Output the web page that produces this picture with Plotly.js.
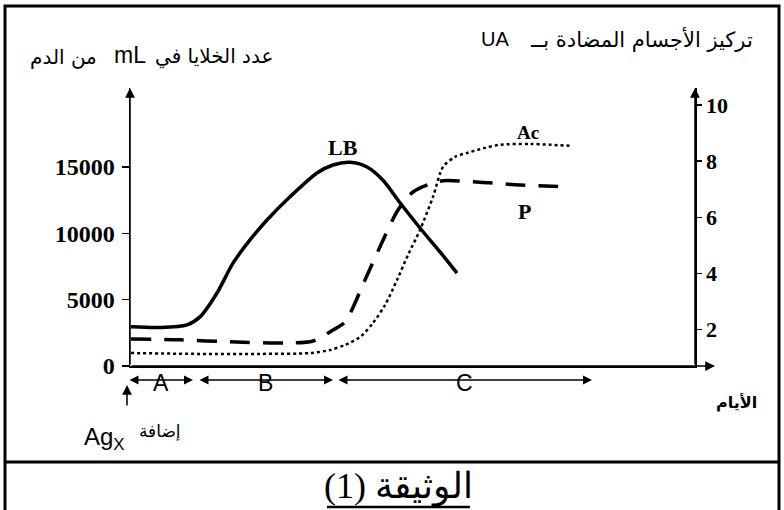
<!DOCTYPE html>
<html>
<head>
<meta charset="utf-8">
<script src="https://cdn.plot.ly/plotly-3.0.1.min.js"></script>
<style>html,body{margin:0;padding:0;background:#fff;}#chart{width:784px;height:510px;}</style>
</head>
<body>
<div id="chart"></div>
<script>
// ---- data ----
const lbDays  = [0.1, 3, 5.7, 7, 8.7, 10.3, 12, 13.7, 16, 18.7, 20.3, 22, 23.7, 25.3, 27, 29, 31, 32.7];
const lbCells = [2950, 2900, 3100, 3700, 5500, 7750, 9500, 11000, 12750, 14550, 15150, 15350, 15000, 14000, 12300, 10400, 8600, 7000];

const pDays = [0.1, 5, 10, 16, 18.3, 20.3, 21.5, 23.5, 25, 26.8, 28.3, 30, 31.3, 35, 39, 43.7];
const pConc = [1.67, 1.64, 1.57, 1.53, 1.6, 1.99, 2.28, 3.77, 4.95, 6.26, 6.9, 7.19, 7.3, 7.25, 7.15, 7.08];

const acDays = [0.1, 7, 13, 18, 20, 21.5, 23, 24.3, 25.5, 26.7, 27.8, 29, 30.3, 31.3, 32.5, 33.7, 35.5, 37, 40, 42, 44.2];
const acConc = [1.17, 1.14, 1.14, 1.17, 1.28, 1.46, 1.74, 2.24, 2.88, 3.77, 4.66, 5.55, 6.73, 7.79, 8.15, 8.29, 8.47, 8.58, 8.61, 8.58, 8.54];

const cellTicks = [0, 5000, 10000, 15000];
const concTicks = [2, 4, 6, 8, 10];
const phaseNames = ['A', 'B', 'C'];
const phaseStart = [-0.2, 6.8, 20.7];
const phaseEnd   = [6.3, 20.3, 46.2];

// ---- layout helpers (pixel -> paper) ----
const X0 = 130, X1 = 695, Y0 = 366, Y1 = 88;
const px = x => (x - X0) / (X1 - X0);
const py = y => (Y0 - y) / (Y0 - Y1);
const xRange = [0, 56.5];
const yRange = [0, 20950];
const y2Range = [0.71, 10.6];

const serif = 'Liberation Serif, DejaVu Serif, serif';
const arab = 'DejaVu Sans, Noto Sans, sans-serif';
const sans = 'Liberation Sans, Arial, sans-serif';

const traces = [
  {x: lbDays, y: lbCells, type: 'scatter', mode: 'lines', yaxis: 'y',
   line: {color: '#000', width: 3.5, shape: 'spline', smoothing: 0.8}, name: 'LB'},
  {x: pDays, y: pConc, type: 'scatter', mode: 'lines', yaxis: 'y2',
   line: {color: '#000', width: 3.5, dash: '20px,13px', shape: 'spline', smoothing: 0.8}, name: 'P'},
  {x: acDays, y: acConc, type: 'scatter', mode: 'lines', yaxis: 'y2',
   line: {color: '#000', width: 2.5, dash: 'dot', shape: 'spline', smoothing: 0.8}, name: 'Ac'}
];

const ann = [];
function txt(x, y, text, size, family, extra) {
  ann.push(Object.assign({x: px(x), y: py(y), xref: 'paper', yref: 'paper', text: text, showarrow: false,
    xanchor: 'center', yanchor: 'middle', font: {size: size, family: family, color: '#000'}}, extra || {}));
}
// axis arrows
ann.push({x: 0, y: yRange[1], xref: 'x', yref: 'y', ax: 0, ay: 0, axref: 'x', ayref: 'y',
  showarrow: true, arrowhead: 2, arrowsize: 1.3, arrowwidth: 1.5, arrowcolor: '#000', text: ''});
ann.push({x: xRange[1], y: y2Range[1], xref: 'x', yref: 'y2', ax: xRange[1], ay: y2Range[0], axref: 'x', ayref: 'y2',
  showarrow: true, arrowhead: 2, arrowsize: 1.3, arrowwidth: 1.5, arrowcolor: '#000', text: ''});
ann.push({x: 58.5, y: 0, xref: 'x', yref: 'y', ax: 0, ay: 0, axref: 'x', ayref: 'y',
  showarrow: true, arrowhead: 2, arrowsize: 1.3, arrowwidth: 1.5, arrowcolor: '#000', text: ''});
// phase arrows
for (let i = 0; i < phaseNames.length; i++) {
  ann.push({x: phaseEnd[i], y: py(380), xref: 'x', yref: 'paper', ax: phaseStart[i], ay: 0, axref: 'x', ayref: 'pixel',
    showarrow: true, arrowhead: 2, startarrowhead: 2, arrowside: 'end+start', arrowsize: 1.2, arrowwidth: 1.5,
    arrowcolor: '#000', text: ''});
  ann.push({x: (phaseStart[i] + phaseEnd[i]) / 2, y: py(398), xref: 'x', yref: 'paper', text: phaseNames[i],
    showarrow: false, font: {size: 23, family: sans, color: '#000'}});
}
// Ag arrow
ann.push({x: px(127), y: py(385), xref: 'paper', yref: 'paper', ax: 0, ay: 22, showarrow: true,
  arrowhead: 2, arrowsize: 1.3, arrowwidth: 1.5, arrowcolor: '#000', text: ''});
txt(104, 438, 'Ag<sub>X</sub>', 24, sans);
txt(160, 431, 'إضافة', 17, arab);
txt(736, 402, '<b>الأيام</b>', 16, arab);
// curve labels
txt(343, 147, '<b>LB</b>', 22, serif);
txt(528, 132, '<b>Ac</b>', 19, serif);
txt(524, 211, '<b>P</b>', 22, serif);
// axis titles
txt(63, 57, 'من الدم', 20, arab);
txt(130, 55, 'mL', 23, sans);
txt(214, 56, 'عدد الخلايا في', 20, arab);
txt(495, 39, 'UA', 20, sans);
txt(641, 40, 'تركيز الأجسام المضادة بــ', 21, arab);
// caption
txt(398, 486, '(1) الوثيقة', 36, serif);

const shapes = [
  {type: 'rect', xref: 'paper', yref: 'paper', x0: px(5), x1: px(779), y0: py(512), y1: py(6),
   line: {color: '#000', width: 3}},
  {type: 'line', xref: 'paper', yref: 'paper', x0: px(5), x1: px(779), y0: py(462), y1: py(462),
   line: {color: '#000', width: 3}},
  {type: 'line', xref: 'paper', yref: 'paper', x0: px(327), x1: px(470), y0: py(507), y1: py(507),
   line: {color: '#000', width: 2.5}}
];

const layout = {
  width: 784, height: 510,
  margin: {l: X0, r: 784 - X1, t: Y1, b: 510 - Y0, pad: 0},
  paper_bgcolor: '#fff', plot_bgcolor: 'rgba(0,0,0,0)',
  showlegend: false, hovermode: false,
  xaxis: {range: xRange, showline: true, linecolor: '#000', linewidth: 1.5, showgrid: false,
    zeroline: false, showticklabels: false, ticks: '', fixedrange: true},
  yaxis: {range: yRange, tickvals: cellTicks, ticktext: cellTicks.map(String), ticks: 'outside', ticklen: 7,
    tickwidth: 1.5, tickcolor: '#000', showline: true, linecolor: '#000', linewidth: 1.5, showgrid: false,
    zeroline: false, tickfont: {family: serif, size: 24, color: '#000', weight: 700}, ticklabelstandoff: 2},
  yaxis2: {range: y2Range, overlaying: 'y', side: 'right', tickvals: concTicks, ticks: 'outside', ticklen: 5,
    tickwidth: 1.5, tickcolor: '#000', showline: true, linecolor: '#000', linewidth: 1.5, showgrid: false,
    zeroline: false, tickfont: {family: serif, size: 22, color: '#000', weight: 700}},
  annotations: ann,
  shapes: shapes
};

Plotly.newPlot('chart', traces, layout, {staticPlot: true, displayModeBar: false});
</script>
</body>
</html>
